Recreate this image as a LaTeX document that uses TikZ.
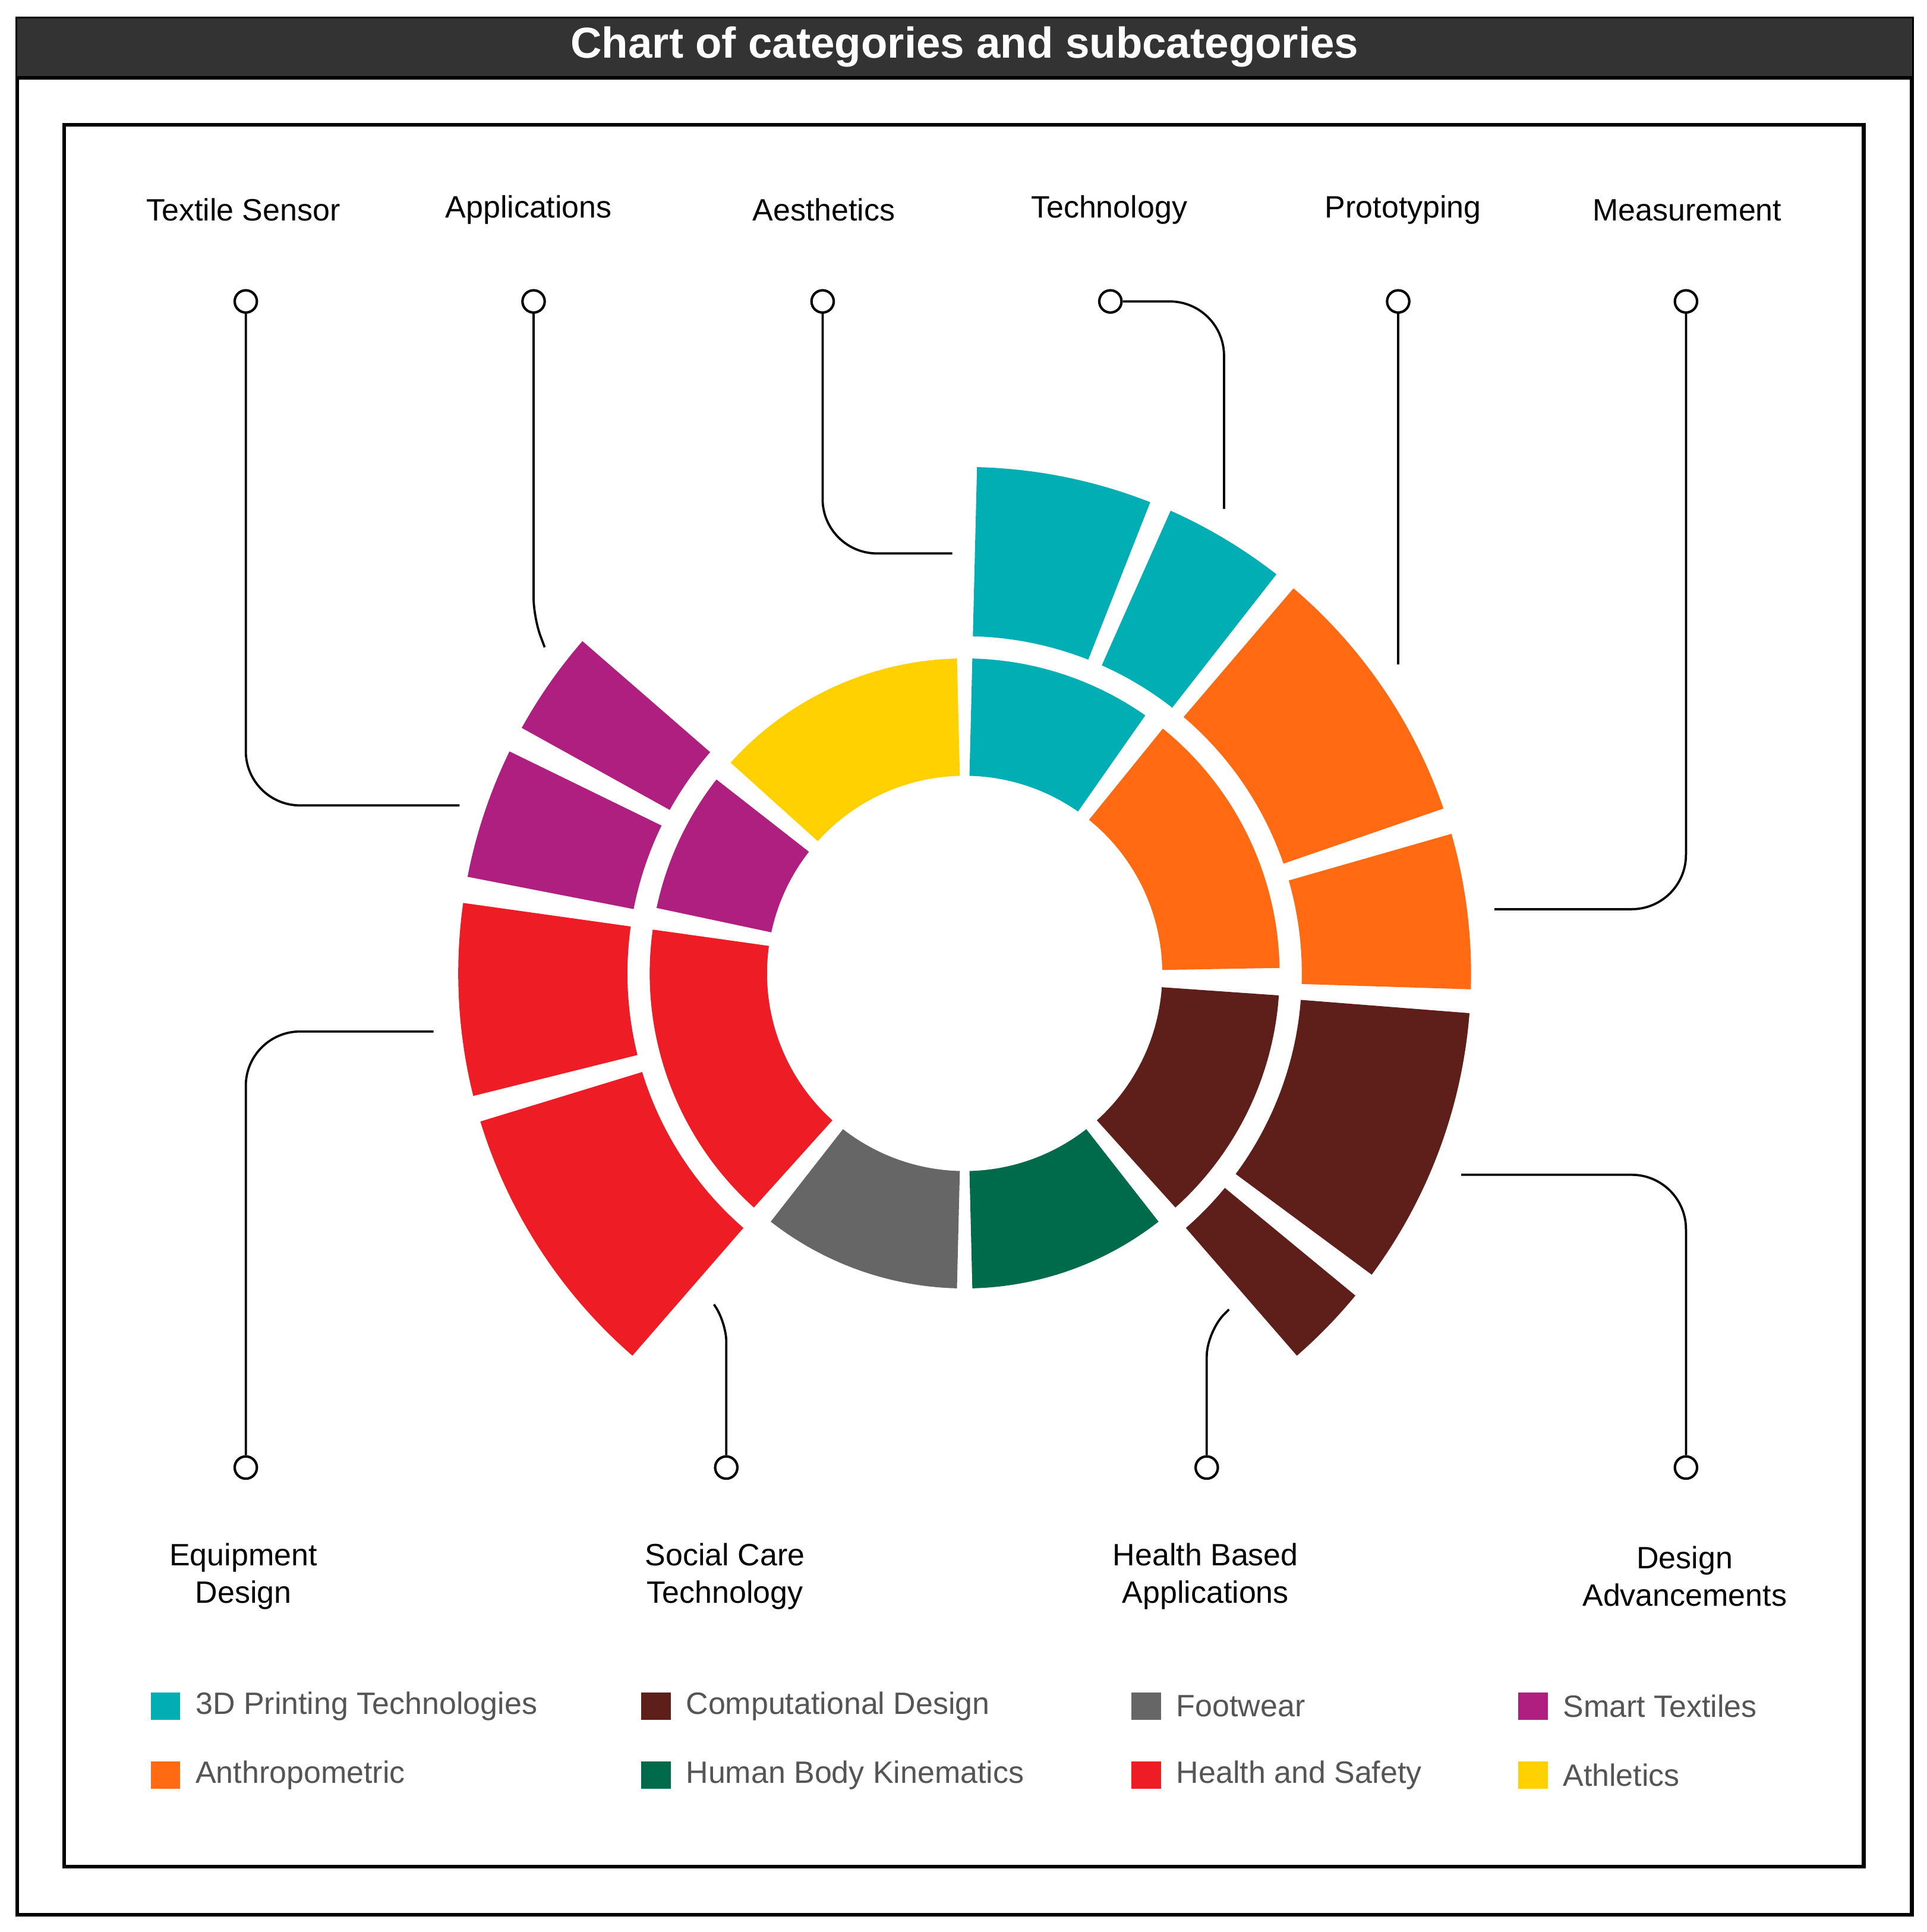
\documentclass[tikz,border=0pt]{standalone}
\usepackage{fontspec}
\setmainfont{Liberation Sans}
\definecolor{cteal}{HTML}{00AEB3}
\definecolor{corange}{HTML}{FF6A13}
\definecolor{cbrown}{HTML}{5E1E1A}
\definecolor{cgreen}{HTML}{006B4A}
\definecolor{cgray}{HTML}{666666}
\definecolor{cred}{HTML}{EE1C25}
\definecolor{cmag}{HTML}{AE1F7F}
\definecolor{cyel}{HTML}{FFD100}
\definecolor{ctitle}{HTML}{333333}
\definecolor{ctext}{HTML}{555555}
\newcommand\seg[5]{\fill[#5] (#1:#3) arc[start angle=#1,end angle=#2,radius=#3] -- (#2:#4) arc[start angle=#2,end angle=#1,radius=#4] -- cycle;}
\begin{document}
\begin{tikzpicture}[x=0.5pt,y=-0.5pt,
 lbl/.style={font=\fontsize{12.5}{15}\selectfont,align=center},
 pin/.style={circle,draw,line width=1pt,minimum size=9pt,inner sep=0pt,fill=white},
 con/.style={line width=0.9pt,rounded corners=22pt},
 leg/.style={font=\fontsize{12.5}{15}\selectfont,text=ctext,anchor=west,inner sep=0pt},
 sq/.style={minimum width=12pt,minimum height=11pt,inner sep=0pt}]
\useasboundingbox (0,0) rectangle (1560,1564);
\fill[white] (0,0) rectangle (1560,1564);
\draw[line width=1.6pt] (14,15) rectangle (1548,1550);
\fill[ctitle] (14,15) rectangle (1548,63);
\draw[line width=1.6pt] (14,63) -- (1548,63);
\node[text=white,font=\bfseries\fontsize{17.5}{20}\selectfont] (title) at (781,38) {Chart of categories and subcategories};
\draw[line width=1.6pt] (52,101) rectangle (1509,1511);
% donut
\begin{scope}[shift={(781,788)},yscale=-1]
\seg{55}{88.6}{160}{255}{cteal}
\seg{1}{51}{160}{255}{corange}
\seg{-48}{-4}{160}{255}{cbrown}
\seg{-88.6}{-52}{160}{255}{cgreen}
\seg{-128}{-91.4}{160}{255}{cgray}
\seg{172}{228}{160}{255}{cred}
\seg{142}{168}{160}{255}{cmag}
\seg{91.4}{138}{160}{255}{cyel}
\seg{68.5}{88.6}{273}{410}{cteal}
\seg{52}{66}{273}{410}{cteal}
\seg{19}{49.5}{273}{410}{corange}
\seg{-1.8}{16}{273}{410}{corange}
\seg{-36.5}{-4.5}{273}{410}{cbrown}
\seg{-49}{-39.5}{273}{410}{cbrown}
\seg{197}{229}{273}{410}{cred}
\seg{172}{194}{273}{410}{cred}
\seg{154}{169}{273}{410}{cmag}
\seg{139}{151}{273}{410}{cmag}
\end{scope}
% top labels
\node[lbl] (l1) at (197,170) {Textile Sensor};
\node[lbl] (l2) at (428,170) {Applications};
\node[lbl] (l3) at (667,170) {Aesthetics};
\node[lbl] (l4) at (898,170) {Technology};
\node[lbl] (l5) at (1136,170) {Prototyping};
\node[lbl] (l6) at (1366,170) {Measurement};
\node[pin] (p1) at (199,244) {};
\node[pin] (p2) at (432,244) {};
\node[pin] (p3) at (666,244) {};
\node[pin] (p4) at (899,244) {};
\node[pin] (p5) at (1132,244) {};
\node[pin] (p6) at (1365,244) {};
\coordinate (e1) at (372,652);
\coordinate (e2) at (441,524);
\coordinate (e3) at (771,448);
\coordinate (e4) at (991,412);
\coordinate (e5) at (1132,538);
\coordinate (e6) at (1210,736);
\draw[con] (p1) -- (199,652) -- (e1);
\draw[con,rounded corners=8pt] (p2) -- (432,500) -- (e2);
\draw[con] (p3) -- (666,448) -- (e3);
\draw[con] (p4) -- (991,244) -- (e4);
\draw[con] (p5) -- (e5);
\draw[con] (p6) -- (1365,736) -- (e6);
% bottom labels
\node[lbl] (b1) at (197,1276) {Equipment\\Design};
\node[lbl] (b2) at (587,1276) {Social Care\\Technology};
\node[lbl] (b3) at (976,1276) {Health Based\\Applications};
\node[lbl] (b4) at (1364,1276) {Design\\Advancements};
\node[pin] (q1) at (199,1188) {};
\node[pin] (q2) at (588,1188) {};
\node[pin] (q3) at (977,1188) {};
\node[pin] (q4) at (1365,1188) {};
\coordinate (f1) at (351,835);
\coordinate (f2) at (578,1056);
\coordinate (f3) at (995,1060);
\coordinate (f4) at (1183,951);
\draw[con] (q1) -- (199,835) -- (f1);
\draw[con,rounded corners=8pt] (q2) -- (588,1070) -- (f2);
\draw[con,rounded corners=10pt] (q3) -- (977,1078) -- (f3);
\draw[con] (q4) -- (1365,951) -- (f4);
% legend
\node[sq,fill=cteal] (s1) at (134,1381) {};
\node[leg] (t1) at (158,1381) {3D Printing Technologies};
\node[sq,fill=corange] (s2) at (134,1437) {};
\node[leg] (t2) at (158,1437) {Anthropometric};
\node[sq,fill=cbrown] (s3) at (531,1381) {};
\node[leg] (t3) at (555,1381) {Computational Design};
\node[sq,fill=cgreen] (s4) at (531,1437) {};
\node[leg] (t4) at (555,1437) {Human Body Kinematics};
\node[sq,fill=cgray] (s5) at (928,1381) {};
\node[leg] (t5) at (952,1381) {Footwear};
\node[sq,fill=cred] (s6) at (928,1437) {};
\node[leg] (t6) at (952,1437) {Health and Safety};
\node[sq,fill=cmag] (s7) at (1241,1381) {};
\node[leg] (t7) at (1265,1381) {Smart Textiles};
\node[sq,fill=cyel] (s8) at (1241,1437) {};
\node[leg] (t8) at (1265,1437) {Athletics};
\end{tikzpicture}
\end{document}
